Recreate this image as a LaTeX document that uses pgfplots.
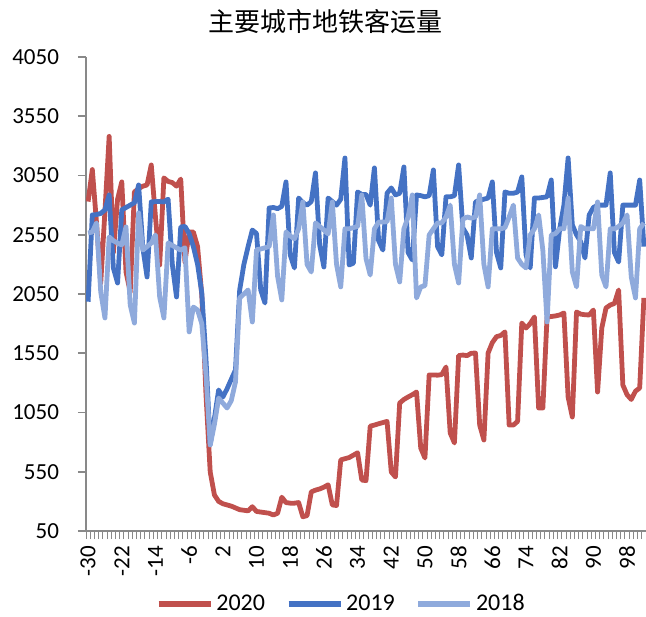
\documentclass[border=0pt]{standalone}
\usepackage{pgfplots}
\pgfplotsset{compat=1.18}
\usepackage{pgfplotstable}
\usepackage{fontspec}
\setmainfont{Carlito}
\newfontfamily\cjk{Noto Sans CJK SC}

\definecolor{c20}{HTML}{C0504D}
\definecolor{c19}{HTML}{4472C4}
\definecolor{c18}{HTML}{8FAADC}
\definecolor{axgray}{HTML}{898989}

% day relative to Spring Festival, passengers (10k)
\pgfplotstableread{
d a2020 a2019 a2018
-30 2830 1985 2565
-29 3100 2717 2573
-28 2650 2720 2650
-27 2143 2730 2067
-26 2750 2760 1848
-25 3380 2886 2531
-24 2400 2270 2500
-23 2850 2143 2480
-22 2996 2760 2464
-21 2236 2780 2616
-20 2067 2800 1957
-19 2911 2820 1805
-18 2940 2970 2734
-17 2960 2440 2421
-16 2970 2194 2450
-15 3139 2827 2480
-14 2700 2830 2548
-13 2295 2830 2025
-12 3030 2827 1848
-11 3000 2850 2480
-10 2990 2300 2460
-9 2960 2025 2440
-8 3020 2616 2420
-7 2320 2620 2440
-6 2573 2560 1730
-5 2573 2450 1940
-4 2450 2300 1915
-3 2042 2060 1800
-2 1198 1500 1367
-1 548 780 776
0 354 1000 950
1 300 1240 1172
2 280 1180 1130
3 270 1250 1088
4 260 1330 1150
5 245 1409 1308
6 230 2084 2017
7 225 2300 2050
8 220 2450 2084
9 255 2590 1814
10 215 2560 2424
11 210 2084 2430
12 205 1974 2440
13 200 2776 2450
14 185 2780 2717
15 200 2770 2200
16 335 2790 2000
17 290 2996 2573
18 285 2380 2540
19 285 2270 2516
20 290 2860 2600
21 170 2820 2827
22 180 2800 2300
23 380 2830 2236
24 395 3072 2650
25 405 2464 2620
26 420 2278 2590
27 440 2860 2557
28 270 2830 2827
29 265 2800 2300
30 650 2850 2110
31 660 3198 2600
32 670 2295 2600
33 690 2310 2610
34 710 2911 2620
35 480 2890 2886
36 475 2890 2350
37 935 2800 2210
38 944 3114 2600
39 955 2500 2657
40 965 2421 2657
41 975 2900 2660
42 548 2945 2860
43 506 2886 2300
44 1130 2900 2152
45 1160 3122 2600
46 1181 2400 2700
47 1200 2337 2886
48 1223 2886 2017
49 750 2880 2110
50 666 2870 2120
51 1367 2880 2548
52 1367 3097 2600
53 1365 2450 2650
54 1370 2380 2650
55 1434 2870 2700
56 877 2870 2800
57 793 2880 2300
58 1530 3139 2143
59 1535 2607 2680
60 1530 2548 2700
61 1550 2354 2690
62 1552 2827 2700
63 944 2840 2886
64 818 2850 2300
65 1552 2860 2110
66 1640 2996 2600
67 1690 2400 2600
68 1700 2270 2600
69 1730 2911 2610
70 944 2900 2700
71 944 2900 2800
72 975 2910 2354
73 1805 3038 2300
74 1763 2380 2270
75 1800 2270 2548
76 1856 2860 2600
77 1088 2860 2717
78 1088 2865 2420
79 1856 2870 1814
80 1860 3012 2548
81 1865 2280 2560
82 1873 2600 2600
83 1890 2800 2600
84 1181 3198 2860
85 1012 2633 2236
86 1898 2550 2110
87 1880 2490 2620
88 1875 2354 2600
89 1873 2717 2600
90 1915 2780 2600
91 1223 2800 2827
92 1763 2800 2210
93 1932 2800 2110
94 1957 3072 2600
95 1970 2400 2600
96 2084 2320 2620
97 1282 2800 2650
98 1200 2800 2717
99 1160 2800 2194
100 1230 2800 2017
101 1257 3012 2600
102 2017 2450 2650
}\metro

\begin{document}
\begin{tikzpicture}
\useasboundingbox (-43pt,-42.5pt) rectangle (280pt,265.5pt);
\begin{axis}[
  at={(0,0)}, anchor=south west,
  scale only axis, width=280pt, height=237pt,
  xmin=-30.5, xmax=102.5, ymin=50, ymax=4050,
  axis x line*=bottom, axis y line*=left,
  axis line style={axgray, line width=0.8pt, -},
  tick align=outside,
  xtick={-30,-22,...,98},
  xticklabels={-30,-22,-14,-6,2,10,18,26,34,42,50,58,66,74,82,90,98},
  minor xtick={-30.5,-29.5,...,102.5},
  major x tick style={draw=none},
  minor x tick style={axgray, line width=0.5pt},
  minor tick length=4pt,
  ytick={50,550,...,4050},
  yticklabels={50,550,1050,1550,2050,2550,3050,3550,4050},
  major y tick style={axgray, line width=0.8pt},
  major tick length=4pt,
  xticklabel style={rotate=90, anchor=east, font=\fontsize{11.5}{12}\selectfont},
  yticklabel style={font=\fontsize{11.5}{12}\selectfont},
  yticklabel shift=6pt,
  legend style={at={(0.457,-0.154)}, anchor=center, draw=none,
    font=\fontsize{12}{14}\selectfont, legend columns=3,
    /tikz/every even column/.append style={column sep=9pt},
    nodes={inner sep=1.5pt}},
  legend image code/.code={\draw[#1, line width=2.6pt] (0pt,0pt) -- (26pt,0pt);},
  every axis plot/.append style={line width=2.4pt, line join=round},
]
\addplot[c20, no markers] table[x=d, y=a2020] {\metro};
\addlegendentry{2020}
\addplot[c19, no markers] table[x=d, y=a2019] {\metro};
\addlegendentry{2019}
\addplot[c18, no markers] table[x=d, y=a2018] {\metro};
\addlegendentry{2018}
\end{axis}
\node[font=\cjk\fontsize{13}{15}\selectfont] at (119.5pt,254.5pt) {主要城市地铁客运量};
\end{tikzpicture}
\end{document}
